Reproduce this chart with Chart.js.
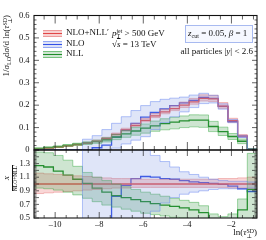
<!DOCTYPE html>
<html>
<head>
<meta charset="utf-8">
<script src="https://cdn.jsdelivr.net/npm/chart.js@4.4.1/dist/chart.umd.min.js"></script>
<style>
  html, body { margin: 0; padding: 0; background: #fff; }
  #wrap { position: relative; width: 266px; height: 240px; overflow: hidden;
          font-family: "Liberation Serif", "DejaVu Serif", serif; color: #111; }
  canvas { position: absolute; left: 0; top: 0; }
  .t { position: absolute; white-space: nowrap; font-size: 9px; line-height: 1; }
  .t i { font-style: italic; }
  .ss { display: inline-flex; flex-direction: column; font-size: 0.65em; line-height: 0.9; vertical-align: 0.4em; }
  .sub { font-size: 0.68em; vertical-align: -0.25em; }
  .sw { position: absolute; left: 43px; width: 19px; height: 5px; }
  .sw div { position: absolute; left: 0; right: 0; top: 2px; height: 1.3px; }
  .ytitle { left: 2px; top: 135px; width: 120px; text-align: right; transform-origin: 0 0; transform: rotate(-90deg); }
  .rtitle { left: 2px; top: 218px; width: 80px; text-align: center; transform-origin: 0 0; transform: rotate(-90deg); }
  .frac { display: inline-flex; flex-direction: column; align-items: center; line-height: 1; }
  .frac .num { font-size: 7px; font-style: italic; padding-bottom: 0.5px; }
  .frac .den { font-size: 5.5px; border-top: 0.7px solid #111; padding-top: 0.5px; }
  .box { position: absolute; left: 185px; top: 25px; width: 66px; height: 16px;
         border: 1px solid #a8baf0; background: #f6f8ff; }
</style>
</head>
<body>
<div id="wrap">
  <canvas id="main" width="266" height="240"></canvas>
  <canvas id="ratio" width="266" height="240"></canvas>

  <div class="t ytitle">1/<i>σ</i><span class="sub">LO</span>d<i>σ</i>/d ln(<i>τ</i><span class="ss"><span>SD</span><span>⊥</span></span>)</div>
  <div class="t rtitle"><span class="frac"><span class="num">X</span><span class="den">NLO+NLL′</span></span></div>
  <div class="t" style="right:9px; top:228px;">ln(<i>τ</i><span class="ss"><span>SD</span><span>⊥</span></span>)</div>

  <div class="sw" style="top:29.5px; background:rgba(235,120,120,0.35); border-top:1px solid rgba(230,120,120,0.6); border-bottom:1px solid rgba(230,120,120,0.6);"><div style="background:rgb(225,70,70);"></div></div>
  <div class="sw" style="top:40.5px; background:rgba(110,135,225,0.25); border-top:1px solid rgba(100,130,240,0.6); border-bottom:1px solid rgba(100,130,240,0.6);"><div style="background:rgb(50,80,230);"></div></div>
  <div class="sw" style="top:51px; background:rgba(60,150,70,0.25); border-top:1px solid rgba(60,170,70,0.6); border-bottom:1px solid rgba(60,170,70,0.6);"><div style="background:rgb(30,140,40);"></div></div>
  <div class="t" style="left:66px; top:28px;">NLO+NLL′</div>
  <div class="t" style="left:66px; top:38.5px;">NLO</div>
  <div class="t" style="left:66px; top:49px;">NLL</div>

  <div class="t" style="left:112px; top:28.5px;"><i>p</i><span class="ss"><span>jet</span><span>T</span></span> &gt; 500 GeV</div>
  <div class="t" style="left:112px; top:40px;">√<i style="text-decoration:overline;">s</i> = 13 TeV</div>
  <div class="box"></div>
  <div class="t" style="left:188px; top:28.5px;"><i>z</i><span class="sub">cut</span> = 0.05, <i>β</i> = 1</div>
  <div class="t" style="right:13px; top:47px;">all particles |<i>y</i>| &lt; 2.6</div>
</div>

<script>
// bin edges in ln(tau_perp^SD)
var edges = [-10.96, -10.52, -10.08, -9.64, -9.20, -8.76, -8.32, -7.88, -7.44, -7.00, -6.56, -6.12,
             -5.68, -5.24, -4.80, -4.36, -3.92, -3.48, -3.04, -2.60, -2.16, -1.72, -1.28, -0.84];

// NLO+NLL' central value, 1/sigma_LO dsigma/dln(tau)
var nloNll = [0.006, 0.009, 0.013, 0.018, 0.024, 0.031, 0.040, 0.052, 0.070, 0.090, 0.110, 0.132,
              0.152, 0.170, 0.185, 0.200, 0.215, 0.230, 0.228, 0.196, 0.131, 0.063, 0.004];

// everything else as ratio to NLO+NLL'
var rNloNllUp = [1.16, 1.15, 1.14, 1.13, 1.12, 1.11, 1.10, 1.09, 1.08, 1.08, 1.08, 1.07,
                 1.07, 1.07, 1.07, 1.07, 1.07, 1.07, 1.07, 1.08, 1.08, 1.09, 1.10];
var rNloNllDn = [0.86, 0.87, 0.88, 0.89, 0.90, 0.91, 0.92, 0.93, 0.94, 0.94, 0.95, 0.95,
                 0.95, 0.95, 0.95, 0.95, 0.95, 0.95, 0.95, 0.95, 0.94, 0.94, 0.93];

var rNlo   = [0, 0, 0, 0, 0, 0, 0.25, 0.42, 0.82, 0.98, 1.08, 1.11,
              1.10, 1.08, 1.07, 1.05, 1.03, 1.02, 1.01, 0.995, 0.97, 0.93, 0.89];
var rNloUp = [0, 0, 0, 0, 0, 1.55, 1.60, 1.75, 1.70, 1.65, 1.60, 1.50,
              1.42, 1.33, 1.25, 1.18, 1.14, 1.10, 1.07, 1.05, 1.04, 1.04, 1.03];
var rNloDn = [0, 0, 0, 0, 0, 0, 0, 0, 0.12, 0.30, 0.40, 0.45,
              0.60, 0.72, 0.80, 0.85, 0.88, 0.90, 0.92, 0.93, 0.93, 0.93, 0.94];

var rNll   = [1.27, 1.25, 1.19, 1.13, 1.07, 1.01, 0.94, 0.88, 0.83, 0.80, 0.77, 0.74,
              0.71, 0.69, 0.67, 0.65, 0.62, 0.58, 0.46, 0.42, 0.46, 0.62, 0.92];
var rNllUp = [1.47, 1.46, 1.42, 1.35, 1.26, 1.17, 1.10, 1.05, 1.00, 0.96, 0.92, 0.88,
              0.85, 0.82, 0.79, 0.76, 0.73, 0.68, 0.56, 0.52, 0.56, 0.78, 1.45];
var rNllDn = [0.94, 0.93, 0.91, 0.88, 0.84, 0.79, 0.74, 0.69, 0.66, 0.63, 0.60, 0.57,
              0.55, 0.53, 0.51, 0.50, 0.48, 0.44, 0.36, 0.33, 0.36, 0.45, 0.30];

var xTickLabels = [-10, -8, -6, -4, -2];
var yTicksMain = [0, 0.1, 0.2, 0.3, 0.4, 0.5, 0.6];
var yTicksRatio = [0.5, 0.6, 0.7, 0.8, 0.9, 1, 1.1, 1.2, 1.3, 1.4];

var RED = 'rgb(225,70,70)', RED_E = 'rgba(230,120,120,0.6)', RED_F = 'rgba(235,120,120,0.3)';
var BLUE = 'rgb(50,80,230)', BLUE_E = 'rgba(100,130,240,0.6)', BLUE_F = 'rgba(110,135,225,0.22)';
var GREEN = 'rgb(30,140,40)', GREEN_E = 'rgba(60,170,70,0.6)', GREEN_F = 'rgba(60,150,70,0.25)';
var FONT = '"Liberation Serif", "DejaVu Serif", serif';

function hist(vals) {
  var pts = vals.map(function (v, i) { return { x: edges[i], y: v }; });
  pts.push({ x: edges[vals.length], y: vals[vals.length - 1] });
  return pts;
}
function abs(r) { return r.map(function (v, i) { return v * nloNll[i]; }); }

function addBand(list, lo, hi, edge, fill) {
  list.push({ data: hist(lo), borderColor: edge, borderWidth: 0.8, fill: false, stepped: true });
  list.push({ data: hist(hi), borderColor: edge, borderWidth: 0.8, backgroundColor: fill, fill: '-1', stepped: true });
}
function addLine(list, vals, color) {
  list.push({ data: hist(vals), borderColor: color, borderWidth: 1.3, fill: false, stepped: true });
}

// inward ticks + frame, Rivet style
var frameTicks = {
  id: 'frameTicks',
  afterDatasetsDraw: function (chart, args, o) {
    var ctx = chart.ctx, a = chart.chartArea, xs = chart.scales.x, ys = chart.scales.y;
    ctx.save();
    ctx.strokeStyle = '#222';
    ctx.lineWidth = 0.7;
    ctx.beginPath();
    for (var k = -22; k <= -2; k++) {
      var px = xs.getPixelForValue(k / 2);
      if (px < a.left || px > a.right) continue;
      var len = (k % 4 === 0) ? o.xMaj : o.xMin;
      ctx.moveTo(px, a.bottom); ctx.lineTo(px, a.bottom - len);
      ctx.moveTo(px, a.top); ctx.lineTo(px, a.top + len);
    }
    var n0 = Math.round(ys.min / 0.02), n1 = Math.round(ys.max / 0.02);
    for (var j = n0; j <= n1; j++) {
      var py = ys.getPixelForValue(j * 0.02);
      var l2 = (j % 5 === 0) ? o.yMaj : o.yMin;
      ctx.moveTo(a.left, py); ctx.lineTo(a.left + l2, py);
      ctx.moveTo(a.right, py); ctx.lineTo(a.right - l2, py);
    }
    ctx.stroke();
    ctx.lineWidth = 1.1;
    ctx.strokeStyle = '#111';
    ctx.strokeRect(a.left, a.top, a.right - a.left, a.bottom - a.top);
    ctx.restore();
  }
};

function yTickFmt(v) { return String(Math.round(v * 10) / 10); }

// ---- main panel
var mainSets = [];
addBand(mainSets, abs(rNloDn), abs(rNloUp), BLUE_E, BLUE_F);
addBand(mainSets, abs(rNllDn), abs(rNllUp), GREEN_E, GREEN_F);
addBand(mainSets, abs(rNloNllDn), abs(rNloNllUp), RED_E, RED_F);
addLine(mainSets, abs(rNll), GREEN);
addLine(mainSets, nloNll, RED);
addLine(mainSets, abs(rNlo), BLUE);

new Chart(document.getElementById('main'), {
  type: 'line',
  data: { datasets: mainSets },
  options: {
    responsive: false,
    animation: false,
    layout: { padding: { left: 0, top: 15.5, right: 9, bottom: 90 } },
    elements: { point: { radius: 0 } },
    plugins: { legend: { display: false }, tooltip: { enabled: false },
               frameTicks: { xMaj: 8, xMin: 4, yMaj: 5, yMin: 2.5 } },
    scales: {
      x: { type: 'linear', display: false, min: -10.96, max: -0.84 },
      y: {
        min: 0, max: 0.6,
        grid: { display: false, drawTicks: false }, border: { display: false },
        ticks: { padding: 4.5, color: '#111', font: { family: FONT, size: 8.5 }, callback: yTickFmt },
        afterBuildTicks: function (s) { s.ticks = yTicksMain.map(function (v) { return { value: v }; }); },
        afterFit: function (s) { s.width = 34; }
      }
    }
  },
  plugins: [frameTicks]
});

// ---- ratio panel
var ones = nloNll.map(function (v) { return v / v; });
var ratioSets = [];
addBand(ratioSets, rNloDn, rNloUp, BLUE_E, BLUE_F);
addBand(ratioSets, rNllDn, rNllUp, GREEN_E, GREEN_F);
addBand(ratioSets, rNloNllDn, rNloNllUp, RED_E, RED_F);
addLine(ratioSets, rNll, GREEN);
addLine(ratioSets, ones, RED);
addLine(ratioSets, rNlo, BLUE);

new Chart(document.getElementById('ratio'), {
  type: 'line',
  data: { datasets: ratioSets },
  options: {
    responsive: false,
    animation: false,
    layout: { padding: { left: 0, top: 150, right: 9, bottom: 0 } },
    elements: { point: { radius: 0 } },
    plugins: { legend: { display: false }, tooltip: { enabled: false },
               frameTicks: { xMaj: 6, xMin: 3, yMaj: 5, yMin: 2.5 } },
    scales: {
      x: {
        type: 'linear', min: -10.96, max: -0.84,
        grid: { display: false, drawTicks: false }, border: { display: false },
        ticks: { padding: 2, maxRotation: 0, autoSkip: false, color: '#111', font: { family: FONT, size: 8.5 },
                 callback: function (v) { return v < 0 ? '\u2013' + Math.abs(v) : String(v); } },
        afterBuildTicks: function (s) { s.ticks = xTickLabels.map(function (v) { return { value: v }; }); },
        afterFit: function (s) { s.height = 22; }
      },
      y: {
        min: 0.5, max: 1.5,
        grid: { display: false, drawTicks: false }, border: { display: false },
        ticks: { padding: 4, color: '#111', font: { family: FONT, size: 8.5 }, callback: yTickFmt },
        afterBuildTicks: function (s) { s.ticks = yTicksRatio.map(function (v) { return { value: v }; }); },
        afterFit: function (s) { s.width = 34; }
      }
    }
  },
  plugins: [frameTicks]
});
</script>
</body>
</html>
